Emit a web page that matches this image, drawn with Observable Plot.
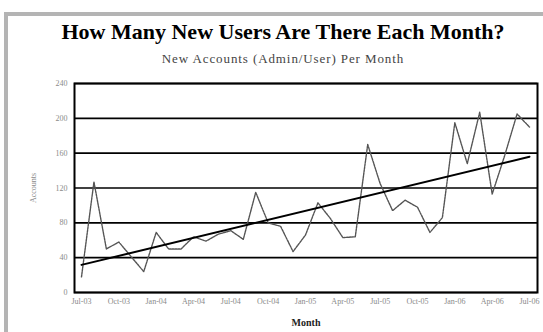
<!DOCTYPE html>
<html>
<head>
<meta charset="utf-8">
<script src="https://cdn.jsdelivr.net/npm/d3@7"></script>
<script src="https://cdn.jsdelivr.net/npm/@observablehq/plot@0.6"></script>
<style>
  html, body { margin: 0; padding: 0; background: #fff; width: 543px; height: 332px; overflow: hidden; }
  #frame { position: absolute; left: 4px; top: 12px; width: 560px; height: 330px; border: 4px solid #b4b4b4; box-sizing: border-box; }
  #title { position: absolute; left: 0; width: 566px; top: 19px; text-align: center; font-family: "Liberation Serif", "DejaVu Serif", serif; font-weight: bold; font-size: 22px; color: #000; }
  #subtitle { position: absolute; left: 0; width: 566px; top: 51px; text-align: center; font-family: "Liberation Serif", "DejaVu Serif", serif; font-size: 13px; letter-spacing: 0.9px; color: #444; }
  #chart { position: absolute; left: 0; top: 70px; }
  #chart svg { font-family: "Liberation Serif", "DejaVu Serif", serif; }
</style>
</head>
<body>
<div id="frame"></div>
<div id="title">How Many New Users Are There Each Month?</div>
<div id="subtitle">New Accounts (Admin/User) Per Month</div>
<div id="chart"></div>
<script>
const months = ["Jul-03","Aug-03","Sep-03","Oct-03","Nov-03","Dec-03","Jan-04","Feb-04","Mar-04","Apr-04","May-04","Jun-04",
  "Jul-04","Aug-04","Sep-04","Oct-04","Nov-04","Dec-04","Jan-05","Feb-05","Mar-05","Apr-05","May-05","Jun-05",
  "Jul-05","Aug-05","Sep-05","Oct-05","Nov-05","Dec-05","Jan-06","Feb-06","Mar-06","Apr-06","May-06","Jun-06","Jul-06"];
const accounts = [18,127,50,58,41,24,69,50,50,64,59,67,71,61,115,80,76,47,66,103,85,63,64,170,125,94,106,98,69,86,195,148,207,113,157,205,190];
const tickLabels = ["Jul-03","Oct-03","Jan-04","Apr-04","Jul-04","Oct-04","Jan-05","Apr-05","Jul-05","Oct-05","Jan-06","Apr-06","Jul-06"];
const yTicks = [0,40,80,120,160,200,240];

const data = months.map((m, i) => ({i, month: m, value: accounts[i]}));
const tickIdx = tickLabels.map(t => months.indexOf(t));

const chart = Plot.plot({
  width: 543,
  height: 262,
  marginLeft: 74,
  marginRight: 6,
  marginTop: 13,
  marginBottom: 40,
  style: {fontFamily: "Liberation Serif, DejaVu Serif, serif", background: "transparent"},
  x: {type: "linear", domain: [0, months.length - 1], insetLeft: 7, insetRight: 8},
  y: {domain: [0, 240]},
  marks: [
    Plot.ruleY(yTicks, {stroke: "#000", strokeWidth: 1.6}),
    Plot.frame({stroke: "#000", strokeWidth: 2}),
    Plot.axisY({ticks: yTicks, tickSize: 0, tickPadding: 7, fontSize: 8, color: "#8a8a8a",
      label: "Accounts", labelAnchor: "center", labelArrow: "none", labelOffset: 44}),
    Plot.axisX({ticks: tickIdx, tickFormat: i => months[i], tickSize: 0, tickPadding: 6, fontSize: 8, color: "#8a8a8a",
      label: null}),
    Plot.text(["Month"], {frameAnchor: "bottom", dy: 26, fontWeight: "bold", fontSize: 10, fill: "#222", lineAnchor: "top"}),
    Plot.lineY(data, {x: "i", y: "value", stroke: "#555", strokeWidth: 1.4, strokeDasharray: "2,1"}),
    Plot.linearRegressionY(data, {x: "i", y: "value", stroke: "#000", strokeWidth: 2, ci: 0})
  ]
});
document.getElementById("chart").appendChild(chart);
</script>
</body>
</html>
